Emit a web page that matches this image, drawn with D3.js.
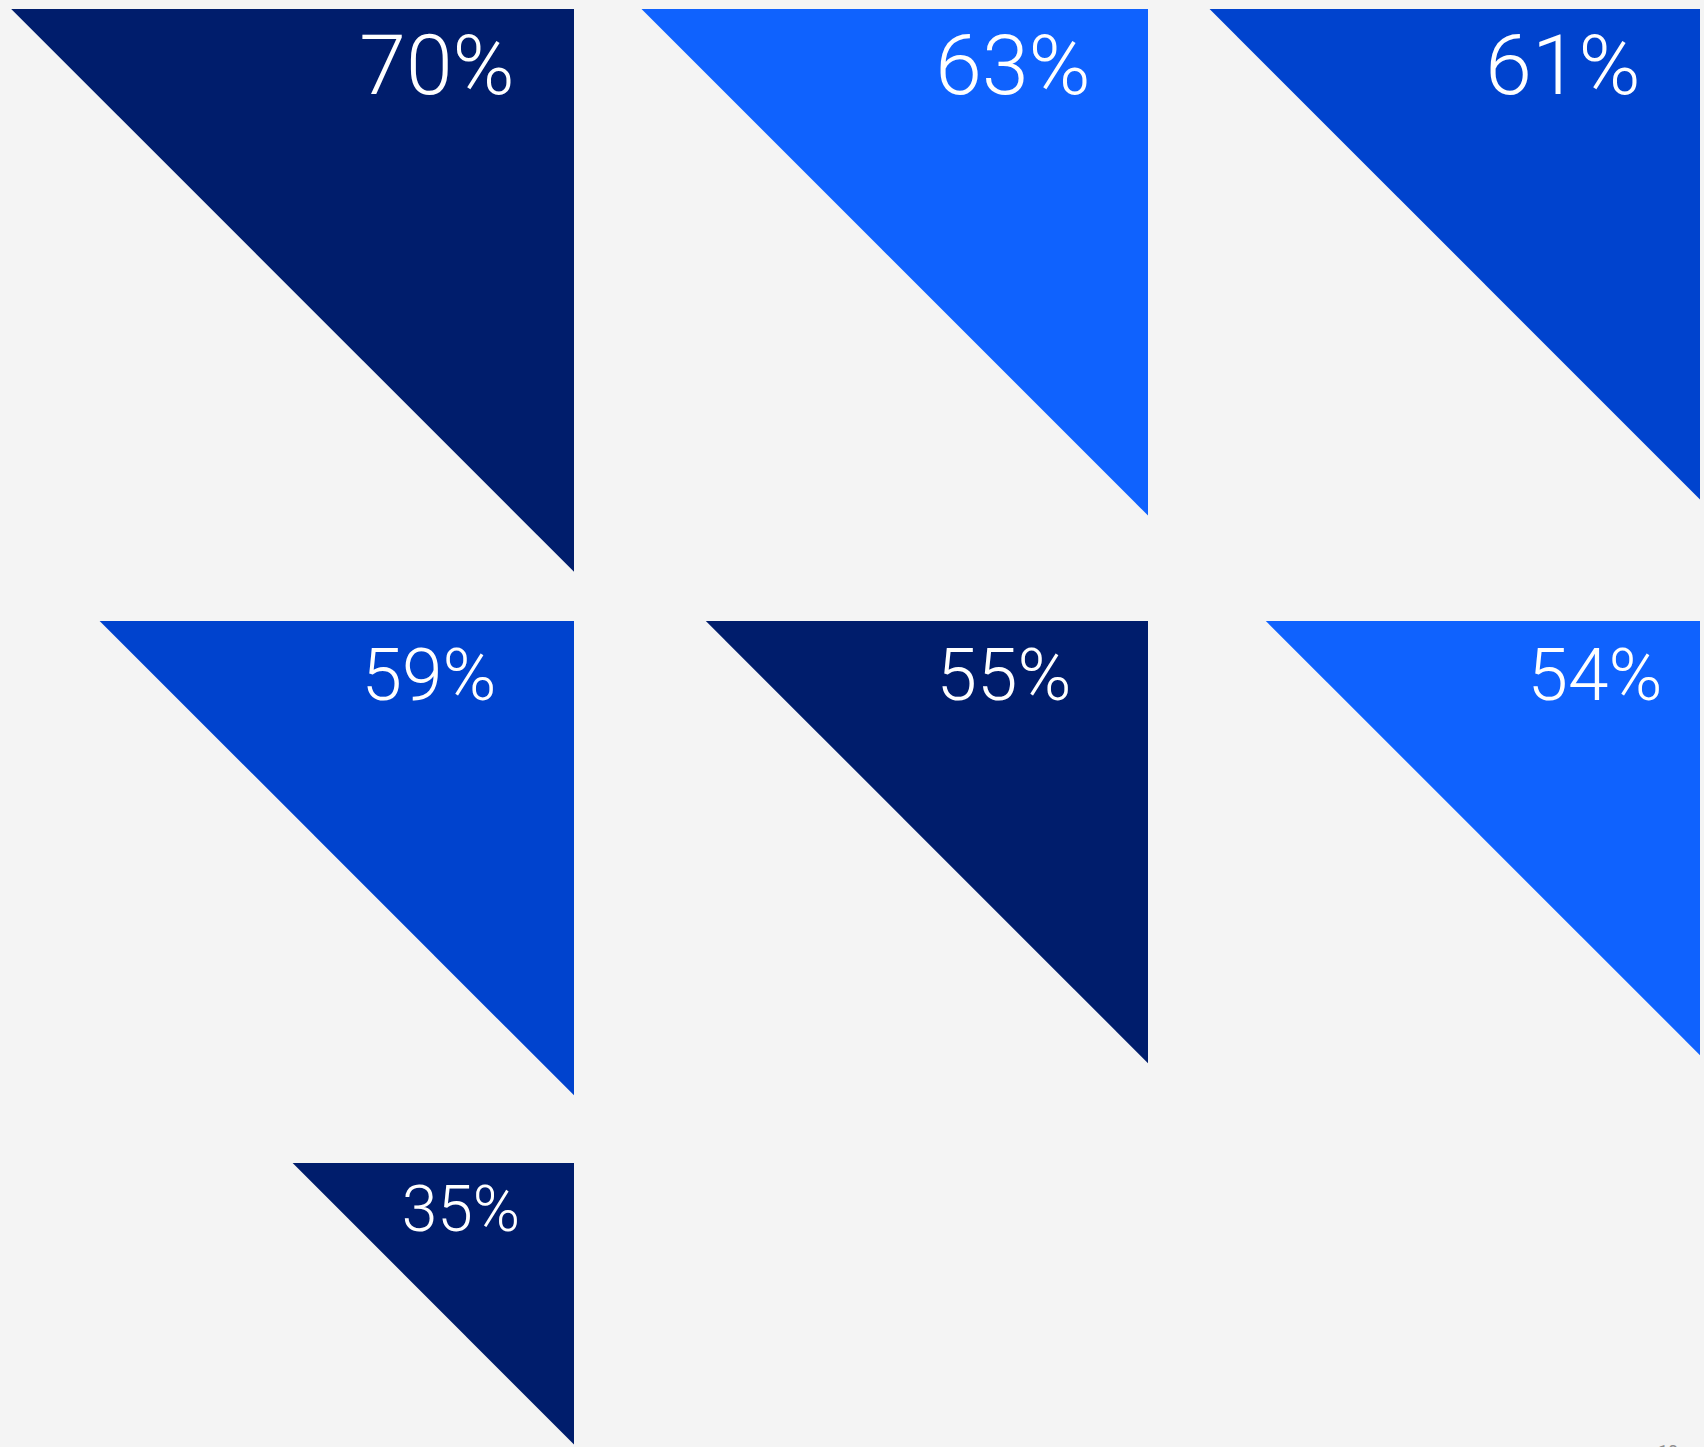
<!DOCTYPE html>
<html>
<head>
<meta charset="utf-8">
<script src="https://cdn.jsdelivr.net/npm/d3@7"></script>
<style>
  html, body { margin: 0; padding: 0; background: #f4f4f4; }
  svg { display: block; }
  .value-label { font-family: Roboto, "Open Sans", sans-serif; font-weight: 300; fill: #ffffff; }
  .page-number { font-family: Roboto, sans-serif; font-weight: 400; fill: #8d8d8d; }
</style>
</head>
<body>
<svg id="chart" width="1704" height="1447"></svg>
<script>
// Share of respondents, one triangle per item (read left-to-right, top-to-bottom)
const items = ["A", "B", "C", "D", "E", "F", "G"];
const values = [70, 63, 61, 59, 55, 54, 35];
const labels = ["70%", "63%", "61%", "59%", "55%", "54%", "35%"];

// Presentation
const fills = ["#001d6c", "#0f62fe", "#0043ce", "#0043ce", "#001d6c", "#0f62fe", "#001d6c"];
const colRight = [574, 1148, 1700];       // right edge of each grid column
const rowTop = [9, 621, 1163];             // top edge of each grid row
const rowFont = [84, 73, 64];              // label size per row
const rowBaseline = [85, 79, 68];          // label baseline below the triangle top
const labelInset = [137, 135, 137, 145, 144, 105, 113]; // label centre, left of the right edge

const W = 1704, H = 1447;
const svg = d3.select("#chart");

svg.append("rect").attr("width", W).attr("height", H).attr("fill", "#f4f4f4");

// Side length of each right triangle is proportional to its value
const side = d3.scaleLinear().domain([0, 100]).range([0, 804]);

const data = items.map((id, i) => ({
  id, value: values[i], label: labels[i], fill: fills[i],
  col: i % 3, row: Math.floor(i / 3), i
}));

const g = svg.selectAll("g.item").data(data).join("g").attr("class", "item")
  .attr("transform", d => `translate(${colRight[d.col]},${rowTop[d.row]})`);

// Triangle: right angle at the top-right corner, hypotenuse running down-left
g.append("path")
  .attr("fill", d => d.fill)
  .attr("d", d => {
    const s = side(d.value);
    return d3.line()([[-s, 0], [0, 0], [0, s]]) + "Z";
  });

g.append("text")
  .attr("class", "value-label")
  .attr("text-anchor", "middle")
  .attr("x", d => -labelInset[d.i])
  .attr("y", d => rowBaseline[d.row])
  .attr("font-size", d => rowFont[d.row])
  .text(d => d.label);

// Page number, partly below the bottom edge
svg.append("text")
  .attr("class", "page-number")
  .attr("x", 1668).attr("y", 1458)
  .attr("text-anchor", "middle")
  .attr("font-size", 18)
  .text("10");
</script>
</body>
</html>
